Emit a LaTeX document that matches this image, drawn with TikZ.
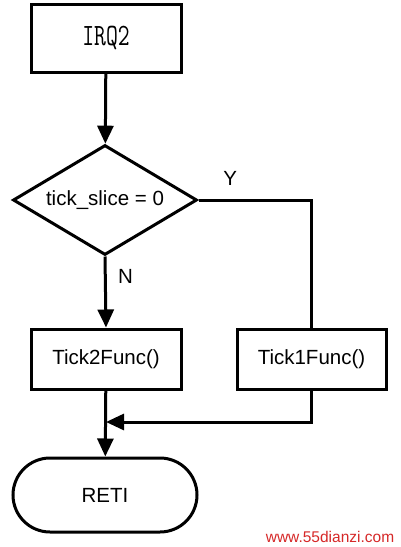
\documentclass[tikz,border=0pt]{standalone}
\usepackage{fontspec}
\setmainfont{Liberation Sans}
\usepackage{xcolor}
\usepackage{tikz}
\usetikzlibrary{arrows.meta,shapes.geometric}
\definecolor{markred}{RGB}{214,40,40}
\tikzset{FCbox/.style={shape=rectangle,draw,line width=3pt,inner sep=0pt,font=\fontsize{20.5}{24}\selectfont},
	FCdec/.style={shape=diamond,draw,line width=3pt,inner sep=0pt,aspect=1.67,minimum width=184pt,minimum height=110pt,font=\fontsize{20.5}{24}\selectfont},
	FCend/.style={shape=rectangle,draw,line width=3pt,rounded corners=37pt,minimum width=184pt,minimum height=74pt,font=\fontsize{20.5}{24}\selectfont},
	FCtip/.style={-{Triangle[length=18pt,width=16pt]}}}
\begin{document}
\begin{tikzpicture}[x=1pt,y=-1pt]
	\useasboundingbox[fill=white] (0,0) rectangle (400,547);
	\node[FCbox,minimum width=150pt,minimum height=68pt,font=\ttfamily\fontsize{23}{26}\selectfont] (IRQ) at (106,38) {\scalebox{1}[1.35]{IRQ2}};
	\node[FCdec] (Slice) at (105,200) {tick\_slice = 0};
	\node[FCbox,minimum width=150pt,minimum height=60pt] (TickB) at (106,359) {Tick2Func()};
	\node[FCbox,minimum width=149pt,minimum height=60pt] (TickA) at (311.5,359) {Tick1Func()};
	\node[FCend] (Reti) at (105,495) {RETI};
	\coordinate (J) at (106,422);
	%
	\path[line width=3pt,font=\fontsize{20.5}{24}\selectfont]
	(IRQ) edge[FCtip] (Slice)
	(Slice.south) edge[FCtip] node[pos=0.28,right=8pt]{N} (TickB.north)
	(TickB) edge[FCtip] (Reti);
	\draw[line width=3pt] (Slice.east) -| node[pos=0.14,above=10pt,font=\fontsize{20.5}{24}\selectfont]{Y} (TickA.north);
	\draw[line width=3pt,FCtip] (TickA.south) |- (J);
	%
	\node[text=markred,font=\fontsize{15.5}{18}\selectfont] (Mark) at (330,537) {www.55dianzi.com};
\end{tikzpicture}
\end{document}
